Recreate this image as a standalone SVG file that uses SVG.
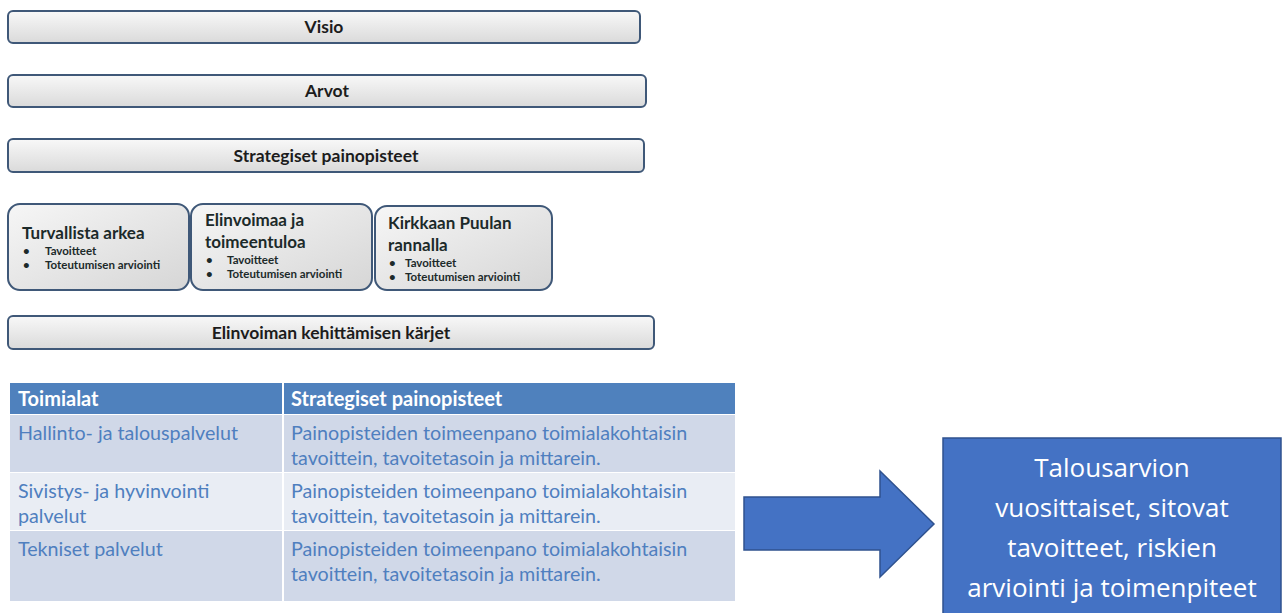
<svg xmlns="http://www.w3.org/2000/svg" width="1288" height="613" viewBox="0 0 1288 613">
<defs>
<linearGradient id="g" x1="0" y1="0" x2="0" y2="1">
<stop offset="0" stop-color="#f8f8f8"/>
<stop offset="1" stop-color="#dadada"/>
</linearGradient>
<linearGradient id="g2" x1="0" y1="0" x2="1" y2="1">
<stop offset="0" stop-color="#f6f6f6"/>
<stop offset="1" stop-color="#d6d6d6"/>
</linearGradient>
</defs>
<style>
.bar{fill:url(#g);stroke:#3f5878;stroke-width:2}
.box{fill:url(#g2);stroke:#3f5878;stroke-width:2}
.bt{font-family:Lato,"Liberation Sans",sans-serif;font-weight:bold;font-size:17.5px;fill:#1c1c1c;text-anchor:middle}
.h{font-family:Lato,"Liberation Sans",sans-serif;font-weight:bold;font-size:17px;fill:#1c2a2a}
.s{font-family:Lato,"Liberation Sans",sans-serif;font-weight:bold;font-size:11.5px;fill:#1c2a2a}
.th{font-family:Lato,"Liberation Sans",sans-serif;font-weight:bold;font-size:20px;fill:#ffffff}
.td{font-family:Lato,"Liberation Sans",sans-serif;font-size:19.7px;fill:#4f7fbf}
.w{font-family:"Open Sans","Liberation Sans",sans-serif;font-size:26px;fill:#ffffff;text-anchor:middle}
</style>
<rect width="1288" height="613" fill="#ffffff"/>

<g id="visio"><rect class="bar" x="8" y="11" width="632" height="32" rx="5"/><text class="bt" x="324" y="33">Visio</text></g>
<g id="arvot"><rect class="bar" x="8" y="75" width="638" height="32" rx="5"/><text class="bt" x="327" y="97">Arvot</text></g>
<g id="strategiset"><rect class="bar" x="8" y="139" width="636" height="33" rx="5"/><text class="bt" x="326" y="162">Strategiset painopisteet</text></g>

<g id="turvallista"><rect class="box" x="8" y="204" width="181" height="86" rx="12"/>
<text class="h" x="22" y="239">Turvallista arkea</text>
<text class="s" x="23" y="255">•</text><text class="s" x="45" y="255">Tavoitteet</text>
<text class="s" x="23" y="269">•</text><text class="s" x="45" y="269">Toteutumisen arviointi</text></g>

<g id="elinvoimaa"><rect class="box" x="191" y="204" width="181" height="86" rx="12"/>
<text class="h" x="205" y="226">Elinvoimaa ja</text>
<text class="h" x="205" y="248">toimeentuloa</text>
<text class="s" x="206" y="264">•</text><text class="s" x="227" y="264">Tavoitteet</text>
<text class="s" x="206" y="278">•</text><text class="s" x="227" y="278">Toteutumisen arviointi</text></g>

<g id="kirkkaan"><rect class="box" x="375" y="206" width="177" height="84" rx="12"/>
<text class="h" x="388" y="229">Kirkkaan Puulan</text>
<text class="h" x="388" y="251">rannalla</text>
<text class="s" x="389" y="267">•</text><text class="s" x="405" y="267">Tavoitteet</text>
<text class="s" x="389" y="281">•</text><text class="s" x="405" y="281">Toteutumisen arviointi</text></g>

<g id="karjet"><rect class="bar" x="8" y="316" width="646" height="33" rx="5"/><text class="bt" x="331" y="339">Elinvoiman kehittämisen kärjet</text></g>

<g id="table">
<rect x="10" y="383" width="725" height="31" fill="#4f81bd"/>
<rect x="10" y="415" width="725" height="57" fill="#d0d8e8"/>
<rect x="10" y="473" width="725" height="57" fill="#e9edf4"/>
<rect x="10" y="531" width="725" height="70" fill="#d0d8e8"/>
<line x1="283" y1="383" x2="283" y2="601" stroke="#ffffff" stroke-width="2"/>
<text class="th" x="18" y="406">Toimialat</text>
<text class="th" x="291" y="406">Strategiset painopisteet</text>
<text class="td" x="18" y="440">Hallinto- ja talouspalvelut</text>
<text class="td" x="291" y="440">Painopisteiden toimeenpano toimialakohtaisin</text>
<text class="td" x="291" y="465">tavoittein, tavoitetasoin ja mittarein.</text>
<text class="td" x="18" y="498">Sivistys- ja hyvinvointi</text>
<text class="td" x="18" y="523">palvelut</text>
<text class="td" x="291" y="498">Painopisteiden toimeenpano toimialakohtaisin</text>
<text class="td" x="291" y="523">tavoittein, tavoitetasoin ja mittarein.</text>
<text class="td" x="18" y="556">Tekniset palvelut</text>
<text class="td" x="291" y="556">Painopisteiden toimeenpano toimialakohtaisin</text>
<text class="td" x="291" y="581">tavoittein, tavoitetasoin ja mittarein.</text>
</g>

<g id="connectors"><polygon points="744,497 880,497 880,471 934,524 880,577 880,550 744,550" fill="#4472c4" stroke="#2f528f" stroke-width="1.5"/></g>

<g id="talousarvio"><rect x="943" y="438" width="338" height="180" fill="#4472c4" stroke="#2f528f" stroke-width="1.5"/>
<text class="w" x="1112" y="477">Talousarvion</text>
<text class="w" x="1112" y="517">vuosittaiset, sitovat</text>
<text class="w" x="1112" y="557">tavoitteet, riskien</text>
<text class="w" x="1112" y="597">arviointi ja toimenpiteet</text></g>
</svg>
